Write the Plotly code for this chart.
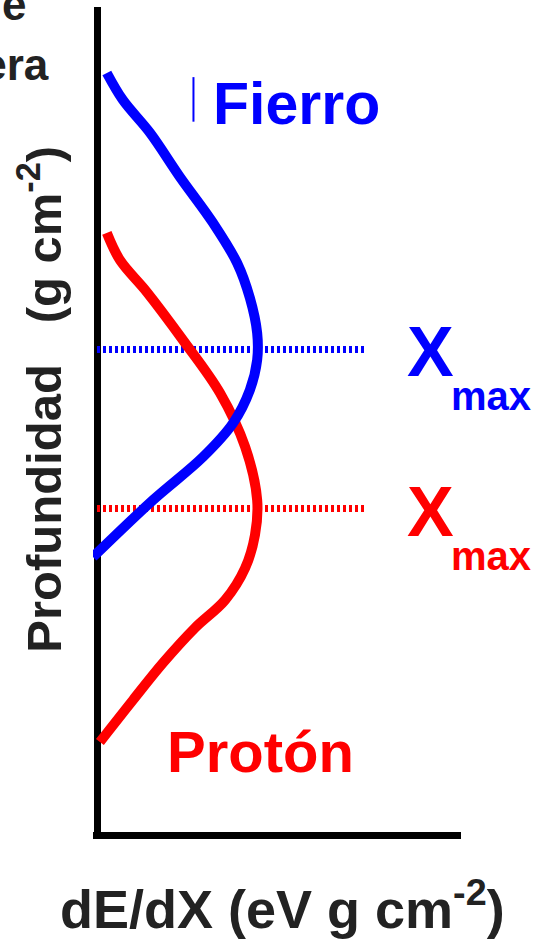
import plotly.graph_objects as go

# Longitudinal shower profiles: energy deposit (arbitrary units) vs atmospheric depth
fe_dedx = [2.7, 7.1, 14.6, 22.8, 31.9, 38.5, 42.0, 44.0, 44.0, 42.0, 37.4, 29.1, 15.4, -1.1]
fe_depth = [80.0, 112.7, 152.7, 206.1, 261.8, 310.3, 352.7, 395.2, 427.9, 464.2, 504.2,
            545.5, 597.6, 666.7]

p_dedx = [2.7, 6.3, 13.7, 23.6, 33.8, 40.7, 44.0, 43.4, 40.7, 35.2, 26.9, 18.1, 9.9, 0.8]
p_depth = [273.9, 306.7, 345.5, 403.6, 467.9, 533.3, 597.6, 640.0, 680.0, 718.8, 752.7,
           795.2, 840.0, 890.9]

# Depth of shower maximum for each primary
xmax_fe = 415.0
xmax_p = 608.0
xmax_line_end = 73.6

BLUE = "#0000FF"
RED = "#FF0000"
INK = "#222222"
FONT = "Liberation Sans, Arial, sans-serif"

fig = go.Figure()

fig.add_trace(go.Scatter(x=[0, xmax_line_end], y=[xmax_fe, xmax_fe], mode="lines",
                         line=dict(color=BLUE, width=7, dash="3px,3px"),
                         hoverinfo="skip", showlegend=False))
fig.add_trace(go.Scatter(x=[0, xmax_line_end], y=[xmax_p, xmax_p], mode="lines",
                         line=dict(color=RED, width=7, dash="3px,3px"),
                         hoverinfo="skip", showlegend=False))

fig.add_trace(go.Scatter(x=p_dedx, y=p_depth, mode="lines", name="Protón",
                         line=dict(color=RED, width=10, shape="spline", smoothing=1.0),
                         showlegend=False))
fig.add_trace(go.Scatter(x=fe_dedx, y=fe_depth, mode="lines", name="Fierro",
                         line=dict(color=BLUE, width=10, shape="spline", smoothing=1.0),
                         showlegend=False))


def label(text, x, y, size, color, yref="paper", yshift=0, xanchor="center",
          textangle=0):
    fig.add_annotation(text=text, x=x, y=y, xref="paper", yref=yref, yshift=yshift,
                       xanchor=xanchor, yanchor="middle", showarrow=False,
                       textangle=textangle,
                       font=dict(family=FONT, size=size, color=color, weight="bold"))


label("Fierro", 0.552, 0.882, 59, BLUE)
label("Protón", 0.454, 0.097, 58, RED)

label("X", 0.916, xmax_fe, 70, BLUE, yref="y", yshift=-3)
label("max", 1.082, xmax_fe, 40, BLUE, yref="y", yshift=-47)
label("X", 0.916, xmax_p, 70, RED, yref="y", yshift=-3)
label("max", 1.082, xmax_p, 40, RED, yref="y", yshift=-47)

label("Profundidad\u00a0\u00a0\u00a0(g cm<sup>-2</sup>)", -0.144, 0.524, 49, INK,
      textangle=-90)
label("dE/dX (eV g cm<sup>-2</sup>)", 0.515, -0.089, 54, INK)

label("Tope de", -0.176, 1.003, 44, INK, xanchor="right")
label("la atmósfera", -0.114, 0.930, 44, INK, xanchor="right")

fig.add_shape(type="line", xref="paper", yref="paper", x0=0.273, x1=0.273,
              y0=0.861, y1=0.915, line=dict(color=BLUE, width=2))

fig.update_xaxes(range=[-1.1, 100], showgrid=False, showticklabels=False, ticks="",
                 showline=True, linecolor="black", linewidth=7,
                 zeroline=True, zerolinecolor="black", zerolinewidth=7)
fig.update_yaxes(range=[1000, 0], showgrid=False, showticklabels=False, ticks="",
                 showline=False, zeroline=False)

fig.update_layout(width=537, height=942, margin=dict(l=93, r=76, t=7, b=110),
                  paper_bgcolor="white", plot_bgcolor="white")

fig.write_html("out.html", config={"displayModeBar": False})
